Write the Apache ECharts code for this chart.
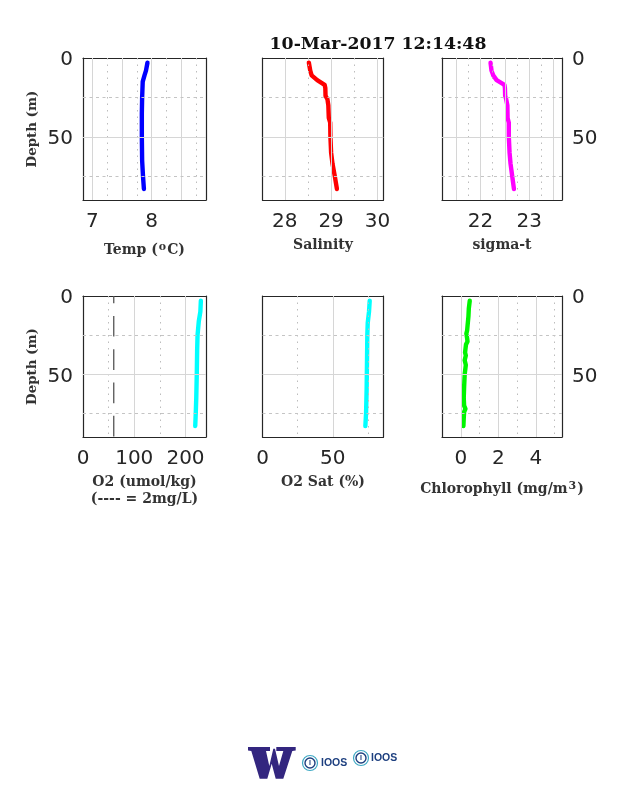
<!DOCTYPE html>
<html><head><meta charset="utf-8">
<style>html,body{margin:0;padding:0;background:#fff}#c{width:638px;height:788px}</style>
<script src="https://cdn.jsdelivr.net/npm/echarts@6/dist/echarts.min.js"></script>
</head><body><div id="c"></div>
<script>
// Values
const titleText = "10-Mar-2017 12:14:48";
const tempDepth = [3,8,11,15,25,35,50,65,75,83];
const tempVals  = [7.93,7.905,7.88,7.85,7.84,7.835,7.835,7.84,7.855,7.87];
const salDepth  = [3,8,11,14,17,19,24,26,30,38,41,50,60,67,75,83];
const salVals   = [28.52,28.55,28.58,28.70,28.86,28.875,28.88,28.92,28.94,28.95,28.98,28.985,29.0,29.03,29.08,29.125];
const sigVals   = [22.205,22.225,22.26,22.33,22.49,22.5,22.505,22.525,22.55,22.555,22.58,22.58,22.595,22.615,22.65,22.685];
const o2Depth   = [3,10,16,25,35,50,65,75,83];
const o2Vals    = [230,229,226,223.5,222.7,222,221,220,219];
const satDepth  = [3,10,17,25,40,60,75,83];
const satVals   = [76.2,75.7,74.8,74.5,74.3,74,73.6,73.1];
const chlDepth  = [3,8,13,18,22,24,27,29,31,34,36,38,39,41,44,50,58,65,70,72,74,78,83];
const chlVals   = [.48,.43,.41,.37,.34,.3,.34,.36,.28,.25,.23,.27,.3,.21,.27,.21,.18,.16,.18,.25,.18,.16,.14];
const o2Limit   = 60;
const depthExtent = [0,90];
const depthTicks = [0,50];
const depthMajor = [50];
const depthMinor = [25,75];

const dark = '#262626';
const panels = [
 {rect:[83,58,123,142],  xr:[6.84,8.92],  labels:[7,8],     major:[7,7.5,8,8.5],       minor:[7.25,7.75,8.25,8.75], x:tempVals,d:tempDepth,c:'#0000ff',name:'{a|Temp (}{s|o}{a|C)}',gap:42,left:true},
 {rect:[262.5,58,121,142],xr:[27.52,30.13],labels:[28,29,30],major:[28,29,30],         minor:[28.5,29.5],           x:salVals, d:salDepth, c:'#ff0000',name:'{a|Salinity}',gap:37},
 {rect:[442,58,120,142], xr:[21.21,23.67],labels:[22,23],   major:[21.5,22,22.5,23,23.5],minor:[21.75,22.25,22.75,23.25],x:sigVals,d:salDepth,c:'#ff00ff',name:'{a|sigma-t}',gap:37,right:true},
 {rect:[83,296,123,141], xr:[0,240],      labels:[0,100,200],major:[100,200],          minor:[50,150],              x:o2Vals,  d:o2Depth, c:'#00ffff',name:'{a|O2 (umol/kg)}\n{a|(---- = 2mg/L)}',gap:37,left:true,limit:true},
 {rect:[262.5,296,121,141],xr:[0,86],     labels:[0,50],    major:[50],                minor:[25,75],               x:satVals, d:satDepth,c:'#00ffff',name:'{a|O2 Sat (%)}',gap:37},
 {rect:[442,296,120,141],xr:[-1,5.4],     labels:[0,2,4],   major:[0,2,4],             minor:[1,3,5],               x:chlVals, d:chlDepth,c:'#00f500',name:'{a|Chlorophyll (mg/m}{s|3}{a|)}',gap:44,right:true}
];

const serif = '"DejaVu Serif"';
const tickFont = {fontFamily:'"DejaVu Sans"',fontSize:20,color:dark};
const rich = {
  a:{fontFamily:serif,fontWeight:'bold',fontSize:14,color:'#333',lineHeight:17},
  s:{fontFamily:serif,fontWeight:'bold',fontSize:11,color:'#333',verticalAlign:'top',lineHeight:3,padding:[0,1,0,1]}
};
const yLabel = Object.assign({show:true,margin:10,verticalAlign:'top',lineHeight:4,customValues:depthTicks,formatter:v=>String(v)},tickFont);
const grids=[],xAxes=[],yAxes=[],series=[];
panels.forEach((p,i)=>{
  grids.push({left:p.rect[0],top:p.rect[1],width:p.rect[2],height:p.rect[3],containLabel:false});
  const xBase={gridIndex:i,type:'value',min:p.xr[0],max:p.xr[1],splitLine:{show:false},
    axisLine:{show:true,onZero:false,lineStyle:{color:dark,width:1.2}}};
  xAxes.push(Object.assign({},xBase,{position:'bottom',
    name:p.name,nameLocation:'middle',nameGap:p.gap,nameTextStyle:{rich},
    axisTick:{show:true,inside:true,length:2,lineStyle:{color:dark},customValues:p.major},
    axisLabel:Object.assign({show:true,margin:12,customValues:p.labels,hideOverlap:false,formatter:v=>String(v)},tickFont)}));
  xAxes.push(Object.assign({},xBase,{position:'top',
    axisTick:{show:true,inside:true,length:2,lineStyle:{color:dark},customValues:p.major},axisLabel:{show:false}}));
  const yBase={gridIndex:i,type:'value',inverse:true,min:depthExtent[0],max:depthExtent[1],splitLine:{show:false},
    axisLine:{show:true,onZero:false,lineStyle:{color:dark,width:1.2}},
    axisTick:{show:true,inside:true,length:3,lineStyle:{color:'#000'},customValues:depthMajor}};
  yAxes.push(Object.assign({},yBase,{position:'left',
    name:p.left?'Depth (m)':'',nameLocation:'middle',nameGap:44,nameRotate:90,
    nameTextStyle:{fontFamily:serif,fontWeight:'bold',fontSize:13.4,color:'#333'},
    axisLabel:p.left?yLabel:{show:false}}));
  yAxes.push(Object.assign({},yBase,{position:'right',
    axisLabel:p.right?yLabel:{show:false}}));
  const ax={xAxisIndex:2*i,yAxisIndex:2*i};
  const solid={color:'#d6d6d6',width:1,type:'solid'};
  const dotX={color:'#bdbdbd',width:1,type:[1.5,5]};
  const dashY={color:'#c4c4c4',width:1,type:[3,3.5]};
  series.push(Object.assign({type:'line',data:[],silent:true,z:1,
    markLine:{silent:true,symbol:'none',animation:false,label:{show:false},data:[]
      .concat(p.major.map(v=>({xAxis:v,lineStyle:solid})))
      .concat(p.minor.map(v=>({xAxis:v,lineStyle:dotX})))
      .concat(depthMajor.map(v=>({yAxis:v,lineStyle:solid})))
      .concat(depthMinor.map(v=>({yAxis:v,lineStyle:dashY})))}},ax));
  if(p.limit) series.push(Object.assign({type:'line',silent:true,z:2,symbol:'none',animation:false,
    data:depthExtent.map(d=>[o2Limit,d]),
    lineStyle:{color:'#555',width:1.3,type:[20.7,12.6],dashOffset:13.4}},ax));
  series.push(Object.assign({type:'line',z:3,symbol:'none',animation:false,
    data:p.x.map((v,k)=>[v,p.d[k]]),
    lineStyle:{color:p.c,width:4.4,cap:'round',join:'round'}},ax));
});

const navy='#1d3f7f', teal='#3fa9c4';
function ioos(cx,cy,tx){
  return [
   {type:'circle',shape:{cx,cy,r:7.5},style:{fill:'none',stroke:teal,lineWidth:1.2}},
   {type:'circle',shape:{cx,cy,r:5},style:{fill:'none',stroke:navy,lineWidth:1.4}},
   {type:'text',x:cx,y:cy,style:{text:'I',align:'center',verticalAlign:'middle',fill:navy,font:'bold 7px "Liberation Sans"'}},
   {type:'text',x:tx,y:cy,style:{text:'IOOS',align:'left',verticalAlign:'middle',fill:navy,font:'bold 10.5px "Liberation Sans"'}}
  ];
}
const wLogo = [[248,747],[270,747],[270,751],[266,751],[269.3,766],[273.3,748.7],[275,748.7],[279,766],[283.3,751],[276.3,751],[276.3,747],[295.7,747],[295.7,750.5],[292.3,751],[283.3,778.7],[275.7,778.7],[271.7,763.7],[267.3,778.7],[259.7,778.7],[251.3,751],[248,750.5]];
const chart=echarts.init(document.getElementById('c'),null,{renderer:'canvas',width:638,height:788});
chart.setOption({
  animation:false,backgroundColor:'#fff',
  title:{text:titleText,left:373,top:31,textAlign:'center',
    textStyle:{fontFamily:serif,fontWeight:'bold',fontSize:17.3,color:'#111'}},
  grid:grids,xAxis:xAxes,yAxis:yAxes,series,
  graphic:[
    {type:'polygon',shape:{points:wLogo},style:{fill:'#33267f'}}
  ].concat(ioos(310,763,321)).concat(ioos(361,758,371))
});
</script></body></html>
